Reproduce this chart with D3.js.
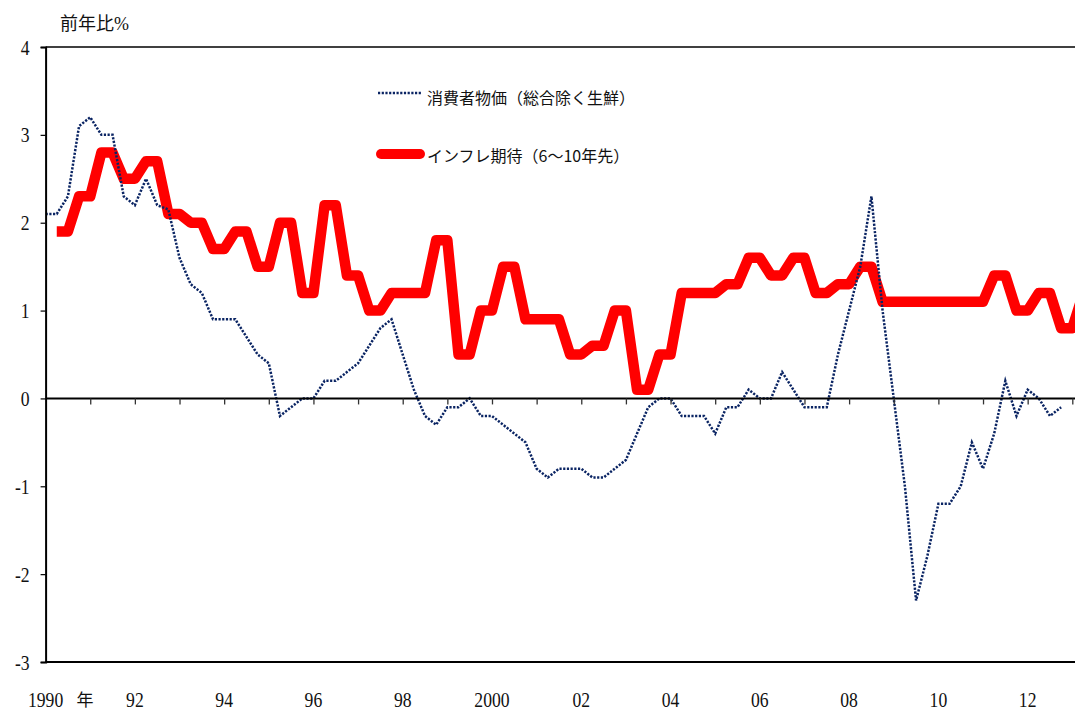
<!DOCTYPE html>
<html><head><meta charset="utf-8">
<script src="https://cdn.jsdelivr.net/npm/d3@7"></script>
<style>
body{margin:0;background:#fff;}
svg{display:block;font-family:"Liberation Serif","Noto Sans CJK JP",serif;}
</style>
</head><body><svg id="c" width="1075" height="711"></svg>
<script>
// ---- data (quarterly, % y/y) ----
const cpiStart = 1990.0;
const cpi = [
  2.1, 2.1, 2.3, 3.1,   3.2, 3.0, 3.0, 2.3,   2.2, 2.5, 2.2, 2.15,
  1.6, 1.3, 1.2, 0.9,   0.9, 0.9, 0.7, 0.5,   0.4, -0.2, -0.1, 0.0,
  0.0, 0.2, 0.2, 0.3,   0.4, 0.6, 0.8, 0.9,   0.5, 0.1, -0.2, -0.3,
  -0.1, -0.1, 0.0, -0.2, -0.2, -0.3, -0.4, -0.5, -0.8, -0.9, -0.8, -0.8,
  -0.8, -0.9, -0.9, -0.8, -0.7, -0.4, -0.1, 0.0, 0.0, -0.2, -0.2, -0.2,
  -0.4, -0.1, -0.1, 0.1, 0.0, 0.0, 0.3, 0.1,  -0.1, -0.1, -0.1, 0.5,
  1.0, 1.5, 2.3, 1.0,   0.0, -1.0, -2.3, -1.8, -1.2, -1.2, -1.0, -0.5,
  -0.8, -0.4, 0.2, -0.2, 0.1, 0.0, -0.2, -0.1
];
const expStart = 1990.25;
const expectations = [
  1.9, 1.9, 2.3, 2.3, 2.8, 2.8, 2.5, 2.5, 2.7, 2.7, 2.1, 2.1,
  2.0, 2.0, 1.7, 1.7, 1.9, 1.9, 1.5, 1.5, 2.0, 2.0, 1.2, 1.2,
  2.2, 2.2, 1.4, 1.4, 1.0, 1.0, 1.2, 1.2, 1.2, 1.2, 1.8, 1.8,
  0.5, 0.5, 1.0, 1.0, 1.5, 1.5, 0.9, 0.9, 0.9, 0.9, 0.5, 0.5,
  0.6, 0.6, 1.0, 1.0, 0.1, 0.1, 0.5, 0.5, 1.2, 1.2, 1.2, 1.2,
  1.3, 1.3, 1.6, 1.6, 1.4, 1.4, 1.6, 1.6, 1.2, 1.2, 1.3, 1.3,
  1.5, 1.5, 1.1, 1.1, 1.1, 1.1, 1.1, 1.1, 1.1, 1.1, 1.1, 1.1,
  1.4, 1.4, 1.0, 1.0, 1.2, 1.2, 0.8, 0.8, 1.2
];
const yTicks = [-3, -2, -1, 0, 1, 2, 3, 4];
const xTickYears = [1991,1992,1993,1994,1995,1996,1997,1998,1999,2000,2001,2002,2003,2004,2005,2006,2007,2008,2009,2010,2011,2012,2013];
const xLabelYears = [1990,1992,1994,1996,1998,2000,2002,2004,2006,2008,2010,2012];
const xLabelText = ["1990","92","94","96","98","2000","02","04","06","08","10","12"];
const yearSuffix = "年";
const legendLabels = ["消費者物価（総合除く生鮮）", "インフレ期待（6〜10年先）"];
const yAxisTitle = "前年比%";

// ---- chart ----
const W = 1075, H = 711;
const svg = d3.select("#c");
const x = d3.scaleLinear().domain([1990, 2013]).range([45.6, 1072.3]);
const y = d3.scaleLinear().domain([-3, 4]).range([662, 47]);
const plotRight = W;
const txt = "#111";
const blue = "#0a2463";
const dots = "2.2,1.5";
const numFont = "'Liberation Serif',serif";
const numSize = "21.5px", squeeze = 0.82;

svg.append("defs").append("clipPath").attr("id","clip")
  .append("rect").attr("x", x(1990)).attr("y", y(4)).attr("width", plotRight - x(1990)).attr("height", y(-3) - y(4));

const cpiData = cpi.map((v,i) => ({t: cpiStart + i*0.25, v}));
const expData = expectations.map((v,i) => ({t: expStart + i*0.25, v}));
const line = d3.line().x(d => x(d.t)).y(d => y(d.v));

const g = svg.append("g").attr("clip-path","url(#clip)");
g.append("path").datum(expData).attr("d", line)
  .attr("fill","none").attr("stroke","#ff0000").attr("stroke-width",10.5)
  .attr("stroke-linejoin","round");
g.append("path").datum(cpiData).attr("d", line)
  .attr("fill","none").attr("stroke",blue).attr("stroke-width",2.5)
  .attr("stroke-dasharray",dots);

// frame lines
svg.append("line").attr("x1", x(1990)).attr("x2", plotRight).attr("y1", y(4)).attr("y2", y(4))
  .attr("stroke","#000").attr("stroke-width",1.5);
svg.append("line").attr("x1", x(1990)).attr("x2", plotRight).attr("y1", y(-3)).attr("y2", y(-3))
  .attr("stroke","#000").attr("stroke-width",2);
svg.append("line").attr("x1", x(1990)).attr("x2", plotRight).attr("y1", y(0)).attr("y2", y(0))
  .attr("stroke","#000").attr("stroke-width",2);

// y axis
const yAxis = d3.axisLeft(y).tickValues(yTicks).tickSize(5).tickFormat("");
const ya = svg.append("g").attr("transform", `translate(${x(1990)},0)`).call(yAxis);
ya.select(".domain").attr("stroke","#000").attr("stroke-width",2);
ya.selectAll(".tick line").attr("stroke","#000").attr("stroke-width",1.2);
svg.append("g").selectAll("text").data(yTicks).join("text")
  .attr("transform", d => `translate(${x(1990) - 16},${y(d) + 7.5}) scale(${squeeze},1)`)
  .attr("text-anchor","end").attr("fill",txt)
  .style("font-size",numSize).style("font-family",numFont)
  .text(d => String(d));

// x ticks on zero line
const xAxis = d3.axisBottom(x).tickValues(xTickYears).tickSize(6).tickFormat("");
const xa = svg.append("g").attr("transform", `translate(0,${y(0)})`).call(xAxis);
xa.select(".domain").remove();
xa.selectAll(".tick line").attr("stroke","#333").attr("stroke-width",1.3);

// x labels
svg.append("g").selectAll("text").data(xLabelYears).join("text")
  .attr("transform", d => `translate(${x(d)},707) scale(${squeeze},1)`)
  .attr("text-anchor","middle").attr("fill",txt)
  .style("font-size",numSize).style("font-family",numFont)
  .text((d,i) => xLabelText[i]);
svg.append("text").attr("x", x(1990) + 31).attr("y", 706)
  .attr("fill",txt).style("font-size","17px").style("font-family","'Noto Sans CJK JP',sans-serif")
  .text(yearSuffix);

// y axis title
svg.append("text").attr("x", 60).attr("y", 30).attr("fill",txt)
  .style("font-size","18px").text(yAxisTitle);

// legend
const lg = svg.append("g");
lg.append("line").attr("x1",378).attr("x2",421).attr("y1",93).attr("y2",93)
  .attr("stroke",blue).attr("stroke-width",2.5).attr("stroke-dasharray",dots);
lg.append("text").attr("x",427).attr("y",104).attr("fill",txt)
  .style("font-size","16px").style("font-family","'Noto Sans CJK JP',sans-serif").text(legendLabels[0]);
lg.append("line").attr("x1",381).attr("x2",420).attr("y1",154).attr("y2",154)
  .attr("stroke","#ff0000").attr("stroke-width",10).attr("stroke-linecap","round");
lg.append("text").attr("x",427).attr("y",162).attr("fill",txt)
  .style("font-size","16px").style("font-family","'Noto Sans CJK JP',sans-serif").text(legendLabels[1]);
</script>
</body></html>
